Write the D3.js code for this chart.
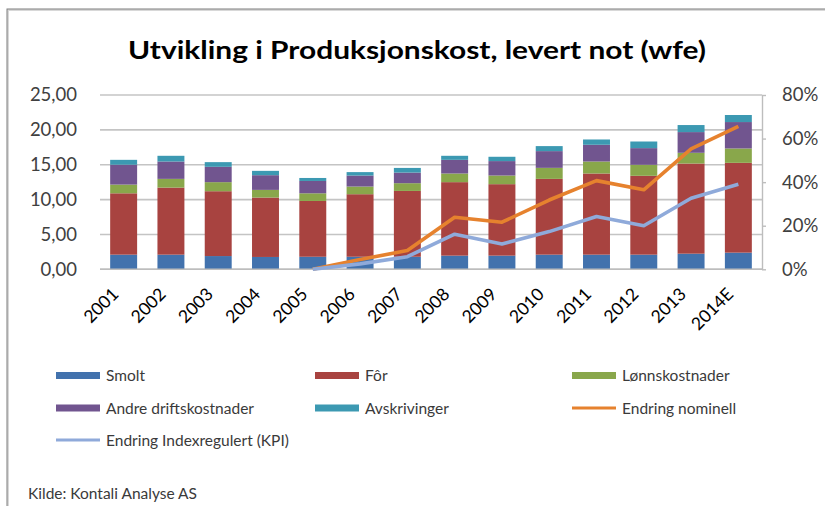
<!DOCTYPE html>
<html><head><meta charset="utf-8">
<script src="https://cdn.jsdelivr.net/npm/d3@7"></script>
<style>body{margin:0;background:#fff}svg{display:block}text{font-family:Lato,"Open Sans",sans-serif}</style>
</head><body><svg id="c" width="825" height="506"></svg>
<script>
const years = ["2001","2002","2003","2004","2005","2006","2007","2008","2009","2010","2011","2012","2013","2014E"];
const smolt = [2.10,2.10,1.90,1.77,1.80,1.80,1.80,1.96,1.96,2.10,2.10,2.10,2.24,2.39];
const forKost = [8.80,9.62,9.30,8.52,8.00,8.97,9.44,10.54,10.25,10.87,11.64,11.31,12.93,12.88];
const lonn = [1.25,1.25,1.30,1.10,1.10,1.10,1.11,1.24,1.24,1.58,1.72,1.58,1.54,2.06];
const andre = [2.85,2.49,2.20,2.11,1.77,1.58,1.52,1.96,2.07,2.40,2.40,2.39,2.97,3.79];
const avskr = [0.70,0.82,0.67,0.62,0.43,0.49,0.67,0.58,0.62,0.72,0.76,0.95,1.01,1.01];
const nominell = [null,null,null,null,0,4.5,8.6,23.9,21.6,31.8,40.7,36.5,55.3,65.6];
const kpi = [null,null,null,null,0,2.5,5.8,16.1,11.6,17.3,24.2,20.0,32.6,39.0];
const leftTicks = [0,5,10,15,20,25];
const rightTicks = [0,20,40,60,80];

const seriesNames = ["Smolt","Fôr","Lønnskostnader","Andre driftskostnader","Avskrivinger"];
const seriesData = [smolt,forKost,lonn,andre,avskr];
const colors = ["#4272AD","#A84340","#89A74B","#71558F","#3C99B2"];
const lineNames = ["Endring nominell","Endring Indexregulert (KPI)"];
const lineColors = ["#E6822E","#8FAADA"];

const svg = d3.select("#c");
// frame
svg.append("rect").attr("x",8).attr("y",10).attr("width",830).attr("height",520).attr("fill","none").attr("stroke","#d8d8d8").attr("stroke-width",2);
svg.append("rect").attr("x",7).attr("y",9).attr("width",830).attr("height",520).attr("fill","none").attr("stroke","#7f7f7f").attr("stroke-width",1);

const x0 = 100, x1 = 762, yTop = 95, yBot = 269.3;
const x = d3.scaleBand().domain(years).range([x0,x1]).paddingInner(0.43).paddingOuter(0.215);
const y = d3.scaleLinear().domain([0,25]).range([yBot,yTop]);
const yR = d3.scaleLinear().domain([0,80]).range([yBot,yTop]);

// grid
svg.append("g").selectAll("line").data(leftTicks).join("line")
  .attr("x1",x0).attr("x2",x1).attr("y1",d=>y(d)).attr("y2",d=>y(d))
  .attr("stroke","#c4c4c4").attr("stroke-width",1.6);

// left axis labels
const fmt = d => d3.format(".2f")(d).replace(".",",");
const la = svg.append("g").attr("transform",`translate(${x0},0)`)
  .call(d3.axisLeft(y).tickValues(leftTicks).tickFormat(fmt).tickSize(0).tickPadding(23));
la.select(".domain").remove();
la.selectAll("text").attr("font-size",18.5).attr("fill","#404040").style("font-family","Lato");

// stacked bars
const table = years.map((yr,i)=>{const o={year:yr}; seriesNames.forEach((s,j)=>o[s]=seriesData[j][i]); return o;});
const stack = d3.stack().keys(seriesNames)(table);
svg.append("g").selectAll("g").data(stack).join("g").attr("fill",(d,i)=>colors[i])
  .selectAll("rect").data(d=>d).join("rect")
  .attr("x",d=>x(d.data.year)).attr("width",x.bandwidth())
  .attr("y",d=>y(d[1])).attr("height",d=>y(d[0])-y(d[1]));

// bottom axis line
svg.append("line").attr("x1",x0).attr("x2",x1).attr("y1",yBot).attr("y2",yBot).attr("stroke","#bdbdbd").attr("stroke-width",1.6);

// right axis
const ra = svg.append("g").attr("transform",`translate(${x1},0)`)
  .call(d3.axisRight(yR).tickValues(rightTicks).tickFormat(d=>d+"%").tickSize(4).tickSizeOuter(0).tickPadding(16));
ra.select(".domain").attr("stroke","#bdbdbd").attr("stroke-width",1.4);
ra.selectAll(".tick line").attr("stroke","#bdbdbd").attr("stroke-width",1.4);
ra.selectAll("text").attr("font-size",18.5).attr("fill","#404040").style("font-family","Lato");

// x labels
const xa = svg.append("g").attr("transform",`translate(0,${yBot})`)
  .call(d3.axisBottom(x).tickSize(0).tickPadding(0));
xa.select(".domain").remove();
xa.selectAll("text").attr("font-size",17.5).attr("fill","#000").style("font-family","Lato")
  .attr("text-anchor","end").attr("dy",0).attr("y",0)
  .attr("transform","translate(-4,26) rotate(-45)");

// lines
const lineGen = d3.line().defined(d=>d.v!==null).x(d=>x(d.year)+x.bandwidth()/2).y(d=>yR(d.v));
[nominell,kpi].forEach((arr,i)=>{
  svg.append("path").datum(years.map((yr,k)=>({year:yr,v:arr[k]})))
    .attr("d",lineGen).attr("fill","none").attr("stroke",lineColors[i]).attr("stroke-width",3.6)
    .attr("stroke-linejoin","round");
});

// title
svg.append("text").attr("x",417).attr("y",59).attr("text-anchor","middle")
  .attr("font-size",25).attr("font-weight","bold").attr("fill","#000")
  .attr("textLength",578).attr("lengthAdjust","spacingAndGlyphs")
  .text("Utvikling i Produksjonskost, levert not (wfe)");

// legend
const legendItems = [
  {name:seriesNames[0],color:colors[0],type:"bar",col:0,row:0},
  {name:seriesNames[1],color:colors[1],type:"bar",col:1,row:0},
  {name:seriesNames[2],color:colors[2],type:"bar",col:2,row:0},
  {name:seriesNames[3],color:colors[3],type:"bar",col:0,row:1},
  {name:seriesNames[4],color:colors[4],type:"bar",col:1,row:1},
  {name:lineNames[0],color:lineColors[0],type:"line",col:2,row:1},
  {name:lineNames[1],color:lineColors[1],type:"line",col:0,row:2}
];
const colX = [56,315,572], rowY = [375.5,408,440];
const lg = svg.append("g");
legendItems.forEach(it=>{
  const gx = colX[it.col], gy = rowY[it.row];
  if(it.type==="bar") lg.append("rect").attr("x",gx).attr("y",gy-3.5).attr("width",44).attr("height",7).attr("fill",it.color);
  else lg.append("line").attr("x1",gx).attr("x2",gx+44).attr("y1",gy).attr("y2",gy).attr("stroke",it.color).attr("stroke-width",3);
  lg.append("text").attr("x",gx+50).attr("y",gy+5.5).attr("font-size",15.5).attr("fill","#3a3a3a").text(it.name);
});

// source
svg.append("text").attr("x",28).attr("y",499).attr("font-size",15.5).attr("fill","#3a3a3a").text("Kilde: Kontali Analyse AS");
</script></body></html>
